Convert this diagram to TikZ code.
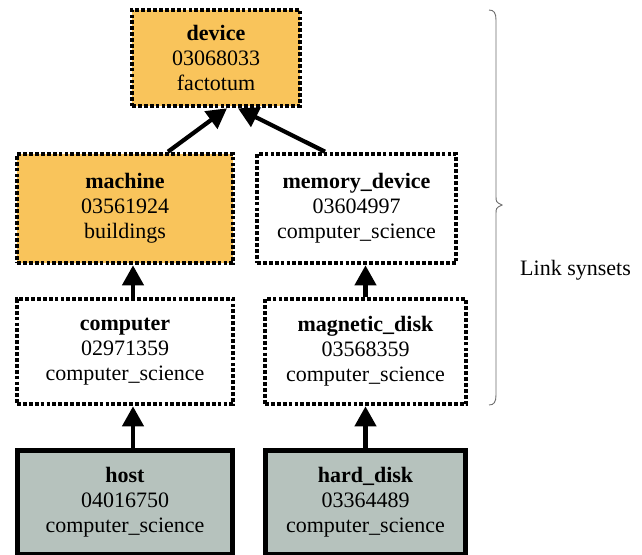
\documentclass[tikz,border=0pt]{standalone}
\usepackage{fontspec}
\setmainfont{Liberation Serif}
\usetikzlibrary{arrows.meta}
\definecolor{synorange}{HTML}{F9C45B}
\definecolor{syngray}{HTML}{B6C2BD}
\definecolor{braceg}{HTML}{6E6E6E}
\tikzset{
  syn/.style={rectangle, inner sep=0pt, align=center, text=black,
    font=\fontsize{22}{25}\selectfont},
  dotbox/.style={syn, draw=black, line width=4.6pt, dash pattern=on 3.8pt off 2.1pt},
  solidbox/.style={syn, draw=black, line width=5pt, fill=syngray},
  link/.style={line width=4.2pt, -{Triangle[width=21pt,length=20pt]}},
}
\begin{document}
\begin{tikzpicture}[x=1pt,y=-1pt]
\clip (0,0) rectangle (642,554);
\fill[white] (0,0) rectangle (642,554);
\node[dotbox, fill=synorange, minimum width=168pt, minimum height=96pt] (dev) at (216,58)
  {\textbf{device}\\03068033\\factotum};
\node[dotbox, fill=synorange, minimum width=216pt, minimum height=109pt] (mach) at (125,208.5)
  {\textbf{machine}\\03561924\\buildings};
\node[dotbox, fill=white, minimum width=199pt, minimum height=109pt] (mem) at (356.5,208.5)
  {\textbf{memory\_device}\\03604997\\computer\_science};
\node[dotbox, fill=white, minimum width=216pt, minimum height=105pt] (comp) at (125,351.5)
  {\textbf{computer}\\02971359\\computer\_science};
\node[dotbox, fill=white, minimum width=201pt, minimum height=105pt] (mag) at (365.5,351.5)
  {\textbf{magnetic\_disk}\\03568359\\computer\_science};
\node[solidbox, minimum width=215pt, minimum height=104pt] (host) at (125,502)
  {\textbf{host}\\04016750\\computer\_science};
\node[solidbox, minimum width=200pt, minimum height=104pt] (hard) at (365.5,502)
  {\textbf{hard\_disk}\\03364489\\computer\_science};
\node[syn, anchor=west] (lab) at (520,270) {Link synsets};
% connectors
\draw[link] ([xshift=43pt]mach.north) -- ([xshift=11pt]dev.south);
\draw[link] ([xshift=-31.5pt]mem.north) -- ([xshift=22pt]dev.south);
\draw[link] ([xshift=8pt]comp.north) -- ([xshift=8pt]comp.north |- mach.south);
\draw[link] (mag.north) -- (mag.north |- mem.south);
\draw[link] ([xshift=8pt]host.north) -- ([xshift=8pt]host.north |- comp.south);
\draw[link] (hard.north) -- (hard.north |- mag.south);
% brace
\draw[braceg, line width=0.9pt] (489,10) .. controls (494,10) and (496,13) .. (496,20)
  -- (496,196) .. controls (496,202) .. (502,205) .. controls (496,208) .. (496,214)
  -- (496,395) .. controls (496,402) and (494,405) .. (489,405);
\end{tikzpicture}
\end{document}
